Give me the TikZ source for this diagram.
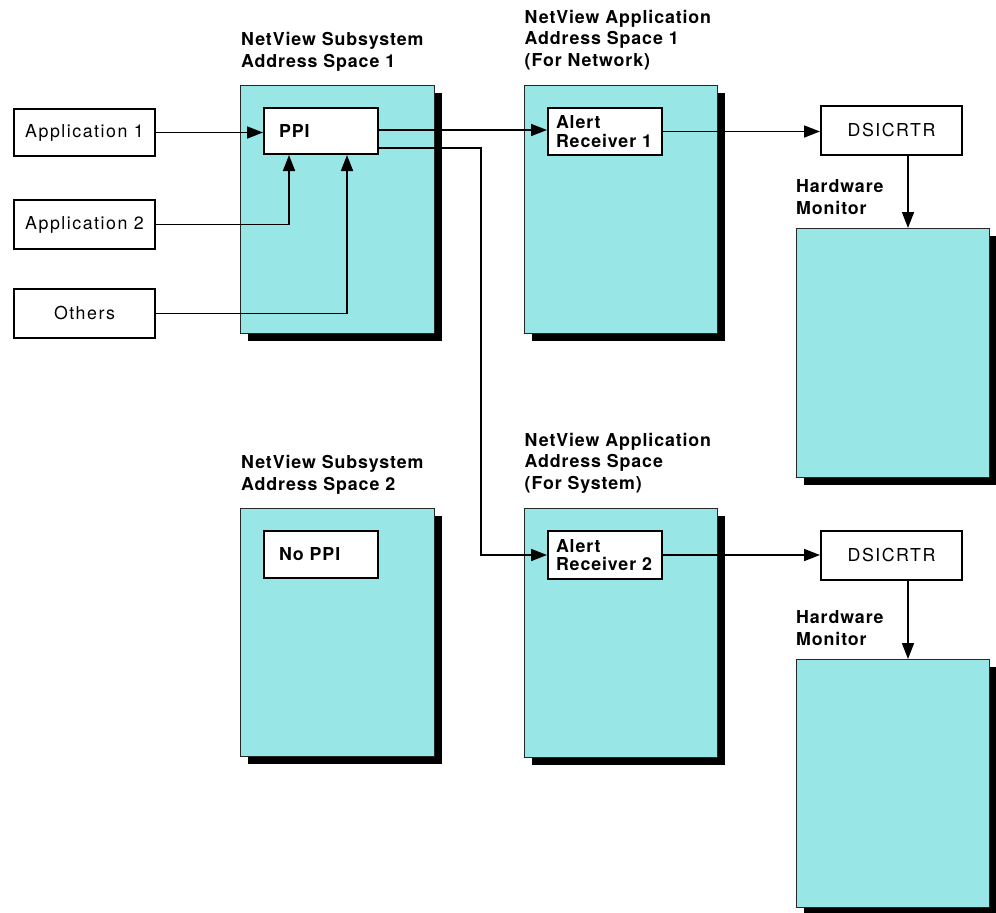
\documentclass[tikz,border=0pt]{standalone}
\usepackage{fontspec}
\setmainfont{TeX Gyre Heros}[LetterSpace=8.5, BoldFeatures={LetterSpace=5}]
\usetikzlibrary{arrows.meta,calc,shadows}
\definecolor{cyanfill}{RGB}{153,230,230}
\begin{document}
\begin{tikzpicture}[x=1pt,y=-1pt,
  every node/.style={font=\fontsize{17.8}{21.5}\selectfont},
  bigbox/.style={draw=black!85, line width=1.4pt, fill=cyanfill, anchor=north west,
    inner sep=0pt, drop shadow={shadow xshift=7pt, shadow yshift=-7pt, fill=black, opacity=1}},
  plainbox/.style={draw=black, line width=2pt, fill=white, anchor=north west, inner sep=0pt},
  innerbox/.style={draw=black, line width=2pt, fill=white, anchor=north west, inner ysep=0pt,
    align=left, font=\fontsize{17.8}{18.5}\selectfont\bfseries},
  titletext/.style={anchor=north west, inner sep=0pt, align=left, font=\fontsize{17.8}{21.5}\selectfont\bfseries},
  conn/.style={line width=1.7pt, -{Triangle[length=16pt,width=12pt]}}
]
\useasboundingbox (0,0) rectangle (996,913);

% big boxes
\node[bigbox, minimum width=194pt, minimum height=248pt] (ss1) at (240,85) {};
\node[bigbox, minimum width=193pt, minimum height=248pt] (as1) at (524,85) {};
\node[bigbox, minimum width=193pt, minimum height=249pt] (hw1) at (796,228) {};
\node[bigbox, minimum width=194pt, minimum height=248pt] (ss2) at (240,508) {};
\node[bigbox, minimum width=193pt, minimum height=249pt] (as2) at (524,508) {};
\node[bigbox, minimum width=193pt, minimum height=248pt] (hw2) at (796,659) {};

% titles
\node[titletext] (tss1) at (241,32.3) {NetView Subsystem\\Address Space 1};
\node[titletext] (tas1) at (524.5,10) {NetView Application\\Address Space 1\\(For Network)};
\node[titletext] (thw1) at (796,179.5) {Hardware\\Monitor};
\node[titletext] (tss2) at (241,455.3) {NetView Subsystem\\Address Space 2};
\node[titletext] (tas2) at (524.5,433) {NetView Application\\Address Space\\(For System)};
\node[titletext] (thw2) at (796,610.5) {Hardware\\Monitor};

% left application boxes
\node[plainbox, minimum width=141pt, minimum height=47pt] (a1) at (13,108) {Application 1};
\node[plainbox, minimum width=141pt, minimum height=49pt] (a2) at (13,199) {Application 2};
\node[plainbox, minimum width=141pt, minimum height=49pt] (oth) at (13,288) {Others};

% inner boxes
\node[innerbox, minimum width=114pt, minimum height=46pt, inner xsep=15pt, text width=84pt] (ppi) at (263,107) {PPI};
\node[innerbox, minimum width=114pt, minimum height=47pt, inner xsep=15pt, text width=84pt] (noppi) at (263,530) {No PPI};
\node[innerbox, minimum width=114pt, minimum height=47pt, inner xsep=8pt, text width=98pt] (ar1) at (547,107) {Alert\\Receiver~1};
\node[innerbox, minimum width=114pt, minimum height=48pt, inner xsep=8pt, text width=98pt] (ar2) at (547,530) {Alert\\Receiver~2};

% DSICRTR boxes
\node[plainbox, minimum width=141pt, minimum height=49pt] (ds1) at (820,105) {DSICRTR};
\node[plainbox, minimum width=141pt, minimum height=49pt] (ds2) at (820,530) {DSICRTR};

% connectors
\draw[conn] (a1.east) -- (a1.east -| ppi.west);
\coordinate (pin2) at ($(ppi.south west)+(26,0)$);
\coordinate (pin3) at ($(ppi.south west)+(84,0)$);
\draw[conn] (a2.east) -| (pin2);
\draw[conn] (oth.east) -| (pin3);
\draw[conn] ($(ppi.east)+(0,-1)$) -- ($(ppi.east -| ar1.west)+(0,-1)$);
\coordinate (pout2) at ($(ppi.south east)+(0,-7)$);
\coordinate (bend2) at ($(ar2.west)+(-66,0)$);
\draw[conn] (pout2) -| (bend2) -- (ar2.west);
\draw[conn] (ar1.east) -- (ar1.east -| ds1.west);
\draw[conn] (ar2.east) -- (ar2.east -| ds2.west);
\coordinate (d1) at ($(ds1.south)+(16.5,0)$);
\coordinate (d2) at ($(ds2.south)+(16.5,0)$);
\draw[conn] (d1) -- (d1 |- hw1.north);
\draw[conn] (d2) -- (d2 |- hw2.north);
\end{tikzpicture}
\end{document}
